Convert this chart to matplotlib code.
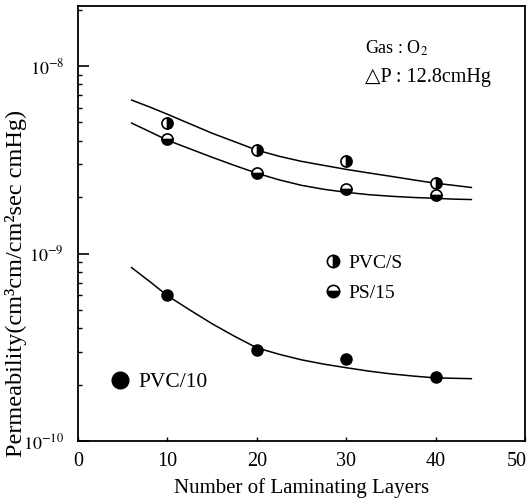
import matplotlib
matplotlib.use("Agg")
import matplotlib.pyplot as plt
import matplotlib.transforms as mtransforms
from matplotlib.ticker import LogLocator, NullFormatter

plt.rcParams['font.family'] = ['Liberation Serif', 'DejaVu Serif']
plt.rcParams['mathtext.fontset'] = 'stix'

# measured points
layers = [10, 20, 30, 40]
pvc_s = [4.96e-9, 3.56e-9, 3.10e-9, 2.37e-9]
ps_15 = [4.07e-9, 2.68e-9, 2.20e-9, 2.04e-9]
pvc_10 = [6.04e-10, 3.07e-10, 2.75e-10, 2.20e-10]

# fitted curves
curve_x = [6, 8, 10, 12.5, 15, 17.5, 20, 22.5, 25, 27.5, 30, 32.5, 35, 37.5, 40, 42, 44]
curve_pvc_s = [6.58e-9, 6.05e-9, 5.53e-9, 4.92e-9, 4.38e-9, 3.95e-9, 3.56e-9, 3.30e-9, 3.10e-9,
               2.95e-9, 2.81e-9, 2.69e-9, 2.58e-9, 2.47e-9, 2.37e-9, 2.31e-9, 2.25e-9]
curve_ps_15 = [4.96e-9, 4.47e-9, 4.02e-9, 3.62e-9, 3.26e-9, 2.95e-9, 2.68e-9, 2.47e-9, 2.31e-9,
               2.20e-9, 2.12e-9, 2.06e-9, 2.02e-9, 1.99e-9, 1.97e-9, 1.95e-9, 1.94e-9]
curve_pvc_10 = [8.41e-10, 7.10e-10, 5.96e-10, 5.00e-10, 4.22e-10, 3.62e-10, 3.14e-10, 2.90e-10,
                2.71e-10, 2.57e-10, 2.46e-10, 2.36e-10, 2.28e-10, 2.22e-10, 2.17e-10, 2.16e-10, 2.15e-10]

x_ticks = [0, 10, 20, 30, 40, 50]
y_ticks = [1e-10, 1e-9, 1e-8]
y_ticklabels = ['$10^{-10}$', '$10^{-9}$', '$10^{-8}$']

fig = plt.figure(figsize=(5.30, 5.01), dpi=100)
ax = fig.add_axes([78/530, 1-441/501, (525-78)/530, (441-6)/501])

lw = 1.1
for cy in (curve_pvc_s, curve_ps_15, curve_pvc_10):
    ax.plot(curve_x, cy, color='black', lw=lw)

ms = 8
h1, = ax.plot(layers, pvc_s, 'o', ms=ms, color='black', fillstyle='right',
              markerfacecolor='black', markerfacecoloralt='white', markeredgewidth=1.2,
              label='PVC/S')
h2, = ax.plot(layers, ps_15, 'o', ms=ms, color='black', fillstyle='bottom',
              markerfacecolor='black', markerfacecoloralt='white', markeredgewidth=1.2,
              label='PS/15')
h3, = ax.plot(layers, pvc_10, 'o', ms=ms, color='black', label='PVC/10')

ax.set_yscale('log')
ax.set_xlim(0, 50)
ax.set_ylim(1e-10, 10**-7.68)

ax.set_xticks(x_ticks)
ax.set_xticklabels([str(v) for v in x_ticks])
ax.set_yticks(y_ticks)
ax.set_yticklabels(y_ticklabels)
ax.yaxis.set_minor_locator(LogLocator(base=10, subs=range(2, 10)))
ax.yaxis.set_minor_formatter(NullFormatter())

ax.tick_params(axis='y', which='major', direction='in', length=8, width=1.2, pad=10, labelsize=13)
ax.tick_params(axis='y', which='minor', direction='in', length=3, width=1.0)
ax.tick_params(axis='x', which='major', direction='in', length=3, width=1.0, pad=8, labelsize=14.5)
for s in ax.spines.values():
    s.set_linewidth(1.3)

# shift last x tick label slightly left as in reference
lbl = ax.get_xticklabels()[-1]
lbl.set_transform(lbl.get_transform() + mtransforms.ScaledTranslation(-8/100, 0, fig.dpi_scale_trans))

ax.set_xlabel('Number of Laminating Layers', fontsize=15, labelpad=5)
fig.text(16/530, 1-283/501, 'Permeability(cm³cm/cm²sec cmHg)', rotation=90,
         fontsize=17.5, ha='center', va='center')

leg1 = ax.legend(handles=[h1, h2], loc='upper left', bbox_to_anchor=(0.553, 0.429),
                 frameon=False, fontsize=14, handlelength=0.8, handletextpad=0.4,
                 borderpad=0, borderaxespad=0, labelspacing=0.62, markerscale=1.1)
ax.add_artist(leg1)
ax.legend(handles=[h3], loc='upper left', bbox_to_anchor=(0.074, 0.158),
          frameon=False, fontsize=15.5, handlelength=0.8, handletextpad=0.45,
          borderpad=0, borderaxespad=0, markerscale=1.5)

ax.text(0.643, 0.903, 'Gas : O$_2$', transform=ax.transAxes, fontsize=13, va='center', ha='left')
ax.text(0.643, 0.835, '△P : 12.8cmHg', transform=ax.transAxes, fontsize=14.5, va='center', ha='left')

fig.savefig('out.png', dpi=100)
